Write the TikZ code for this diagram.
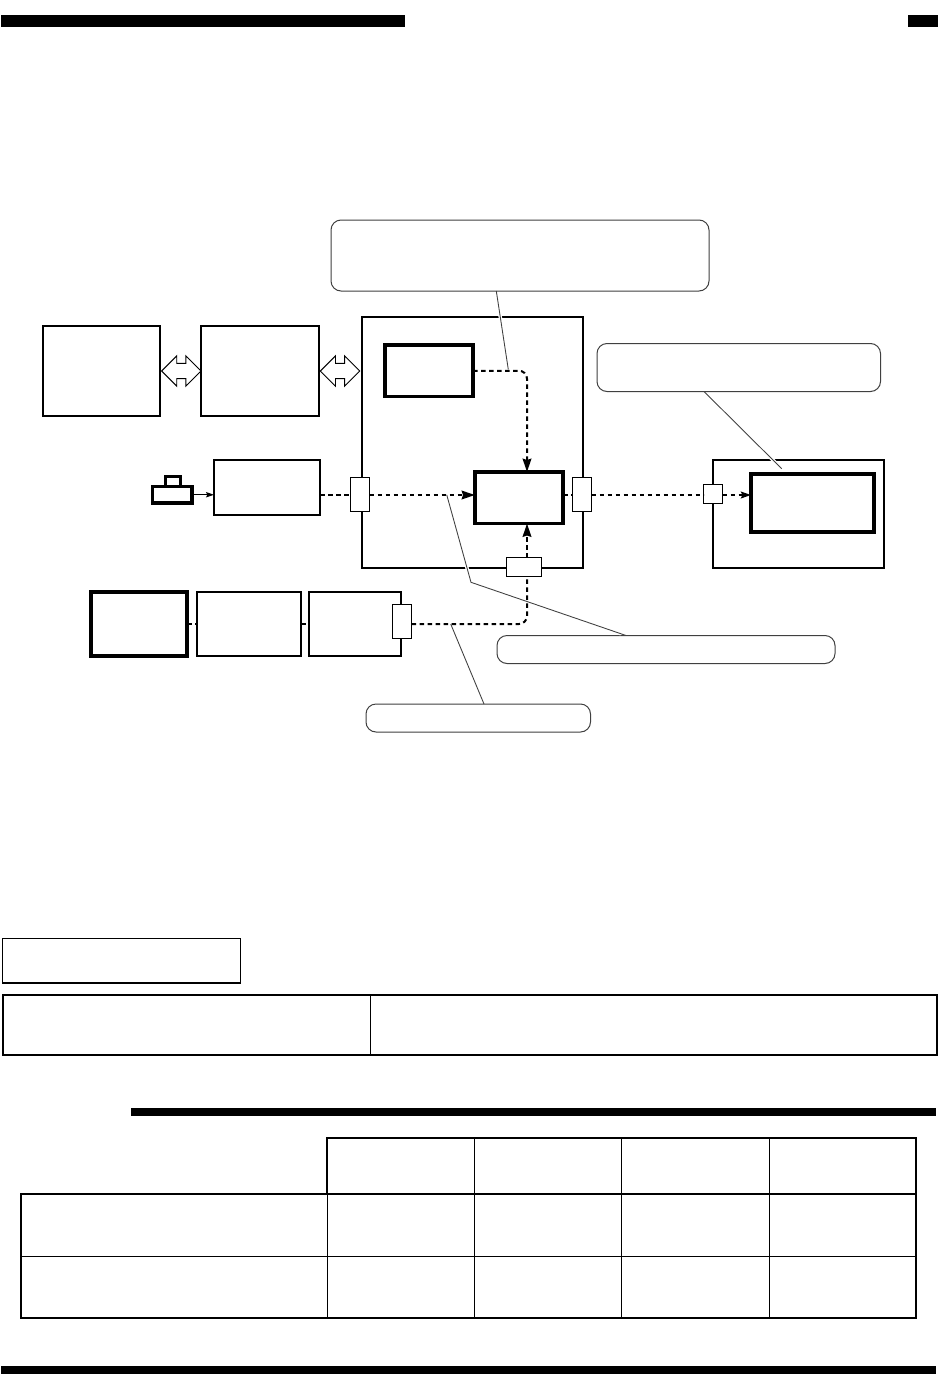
\documentclass[tikz,border=0pt]{standalone}
\usetikzlibrary{arrows.meta,calc,shapes.arrows}
\newcommand{\pxbox}[6]{%
  \pgfmathsetmacro{\bxw}{(#4-#2)*0.75}%
  \pgfmathsetmacro{\bxh}{(#5-#3)*0.75}%
  \pgfmathsetmacro{\bxx}{(#4+#2)/2}%
  \pgfmathsetmacro{\bxy}{(#5+#3)/2}%
  \node[#6,minimum width=\bxw pt,minimum height=\bxh pt] (#1) at (\bxx,\bxy) {};%
}
\tikzset{
  x=0.75pt,y=-0.75pt,
  every node/.style={inner sep=0pt,outer sep=0pt},
  plainbox/.style={draw=black,rectangle,line width=1.5pt,fill=white},
  thickbox/.style={draw=black,rectangle,line width=2.9pt,fill=white},
  portbox/.style={draw=black,rectangle,line width=0.75pt,fill=white},
  callout/.style={draw=black!75,rectangle,rounded corners=7.5pt,line width=0.75pt,fill=white},
  framebox/.style={draw=black,rectangle,line width=1.1pt},
  bar/.style={fill=black,draw=none},
  leader/.style={draw=black!75,line width=0.65pt},
  halo/.style={preaction={draw=white,line width=2.6pt,shorten <=4pt,shorten >=4pt}},
  dashline/.style={draw=black,line width=1.5pt,dash pattern=on 3.4pt off 2.6pt},
  bigtip/.style={-{Stealth[length=10pt,width=6.5pt,inset=1pt]}},
  smalltip/.style={-{Stealth[length=7.5pt,width=5pt,inset=1pt]}},
  busarrow/.style={shape=double arrow,draw=black,fill=white,line width=0.7pt,
    double arrow head extend=5.6pt,inner sep=5.4pt,double arrow tip angle=90,
    minimum height=29.5pt},
  outerline/.style={draw=black,line width=1.4pt},
  innerline/.style={draw=black,line width=0.7pt},
}
\begin{document}
\begin{tikzpicture}
\useasboundingbox[fill=white] (0,0) rectangle (938,1374);
% page bars
\fill[bar] (1,15) rectangle (405,27);
\fill[bar] (908,15) rectangle (938,27);
\fill[bar] (131,1108) rectangle (936,1116);
\fill[bar] (1,1366) rectangle (936,1374);
% diagram frames
\pxbox{unitA}{43}{326}{160}{416}{plainbox}
\pxbox{unitB}{201}{326}{319}{416}{plainbox}
\pxbox{main}{362}{317}{583}{568}{plainbox}
\pxbox{right}{713}{460}{884}{568}{plainbox}
\pxbox{topinner}{385}{345}{473}{396.5}{thickbox}
\pxbox{mid}{475}{472}{563}{523.5}{thickbox}
\pxbox{rightinner}{751}{474}{874}{532}{thickbox}
\pxbox{unitC}{214}{460}{320}{515}{plainbox}
\pxbox{sensebase}{152.5}{486.5}{192}{503}{thickbox}
\pxbox{sensetop}{165.5}{476.5}{180.5}{486.5}{thickbox}
\pxbox{lowA}{91}{591.7}{187.3}{656}{thickbox}
\pxbox{lowB}{197}{592}{301}{656}{plainbox}
\pxbox{lowC}{309}{592}{401}{656}{plainbox}
% ports
\pxbox{portL}{350.5}{477.5}{369.5}{511.5}{portbox}
\pxbox{portR}{572.5}{477.5}{591.5}{511.5}{portbox}
\pxbox{portB}{506.5}{557.5}{541.5}{576.5}{portbox}
\pxbox{portRR}{703.5}{484.5}{722.5}{503.5}{portbox}
\pxbox{portC}{392.5}{604}{411.5}{638.5}{portbox}
% callouts
\pxbox{noteA}{331}{220}{709}{291}{callout}
\pxbox{noteB}{597}{343.5}{880.5}{391.5}{callout}
\pxbox{noteC}{497}{635.5}{835}{663.5}{callout}
\pxbox{noteD}{366}{704}{590.5}{732}{callout}
% leaders
\coordinate (leadAx) at (496.3,0);
\coordinate (leadAend) at (508.3,369.5);
\coordinate (leadBx) at (704,0);
\coordinate (leadBend) at (781.7,468.7);
\coordinate (leadCstart) at (446.7,494.7);
\coordinate (leadCbend) at (471,582.3);
\coordinate (leadCx) at (626,0);
\coordinate (leadDstart) at (450.7,624);
\coordinate (leadDx) at (484,0);
\draw[leader,halo] (leadAx |- noteA.south) -- (leadAend);
\draw[leader,halo] (leadBx |- noteB.south) -- (leadBend);
\draw[leader,halo] (leadCstart) -- (leadCbend) -- (leadCx |- noteC.north);
\draw[leader] (leadDstart) -- (leadDx |- noteD.north);
% bus arrows
\node[busarrow] (busAB) at (181.3,371) {};
\node[busarrow] (busBM) at (340,371) {};
% solid arrow
\draw[line width=0.9pt,-{Stealth[length=6pt,width=4pt,inset=1pt]}] (sensebase.east) -- (unitC.west |- sensebase.east);
% dashed connectors
\coordinate (vert) at (527,0);
\coordinate (rowy) at (0,495);
\coordinate (lowy) at (0,624);
\draw[dashline] (unitC.east |- rowy) -- (portL.west |- rowy);
\draw[dashline,bigtip] (portL.east |- rowy) -- (mid.west |- rowy);
\draw[dashline] (mid.east |- rowy) -- (portR.west |- rowy);
\draw[dashline] (portR.east |- rowy) -- (portRR.west |- rowy);
\draw[dashline,smalltip] (portRR.east |- rowy) -- (rightinner.west |- rowy);
\draw[dashline,rounded corners=6pt,bigtip] (topinner.east) -- (vert |- topinner.east) -- (vert |- mid.north);
\draw[dashline,bigtip] (vert |- portB.north) -- (vert |- mid.south);
\draw[dashline,rounded corners=6pt] (portC.east |- lowy) -- (vert |- lowy) -- (vert |- portB.south);
\draw[dashline] (lowA.east |- lowy) -- (lowB.west |- lowy);
\draw[dashline] (lowB.east |- lowy) -- (lowC.west |- lowy);
% lower boxes
\pxbox{legend}{2.5}{938.5}{240.5}{983}{framebox}
\draw[outerline,line width=1.6pt] (3,995) rectangle (937,1055);
\draw[innerline] (370.3,995) -- (370.3,1055);
% table
\draw[outerline] (327,1194) -- (327,1138.3) -- (916,1138.3) -- (916,1318.3) -- (20.7,1318.3) -- (20.7,1194) -- cycle;
\draw[outerline] (327,1194) -- (916,1194);
\draw[innerline] (474.3,1138.3) -- (474.3,1318.3);
\draw[innerline] (621.3,1138.3) -- (621.3,1318.3);
\draw[innerline] (769.3,1138.3) -- (769.3,1318.3);
\draw[innerline] (327,1194) -- (327,1318.3);
\draw[innerline] (20.7,1256) -- (916,1256);
\end{tikzpicture}
\end{document}
